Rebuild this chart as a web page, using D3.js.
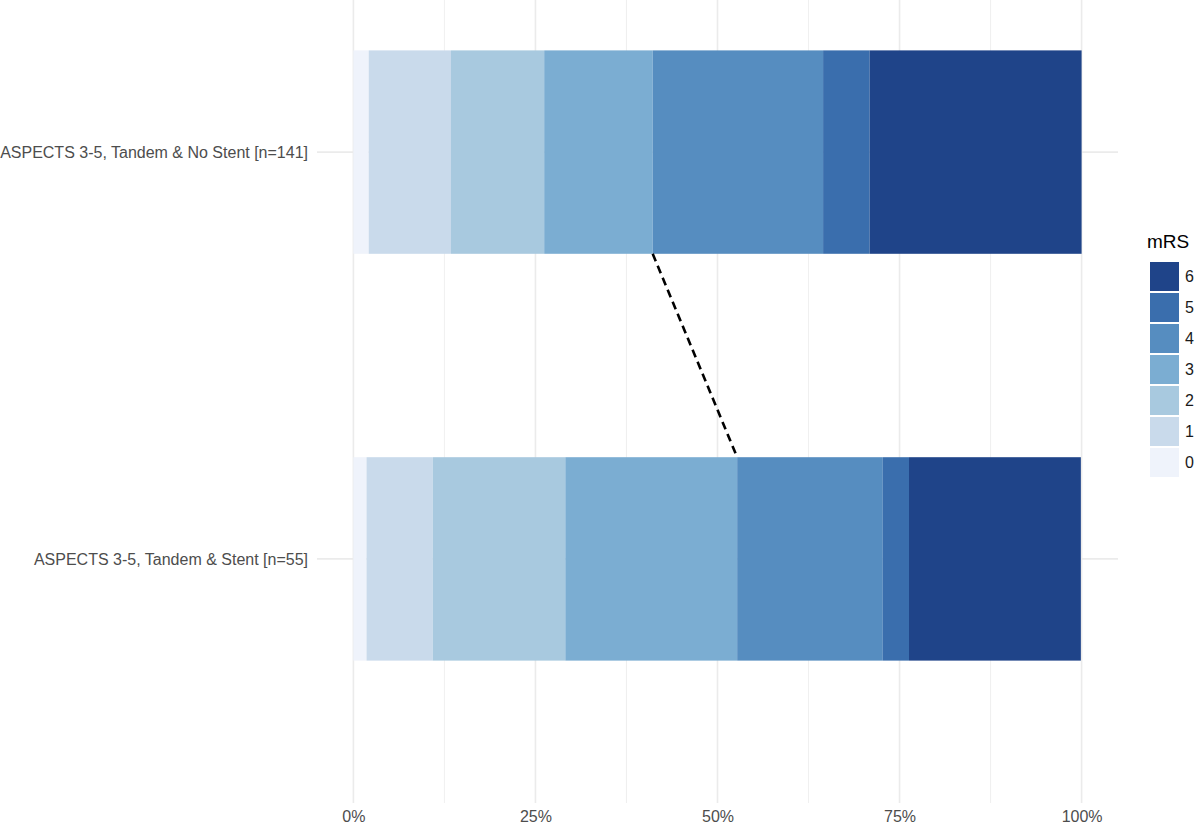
<!DOCTYPE html>
<html>
<head>
<meta charset="utf-8">
<script src="https://cdn.jsdelivr.net/npm/d3@7"></script>
<style>
  body { margin: 0; background: #fff; }
  svg { display: block; font-family: "Liberation Sans", Arial, sans-serif; }
</style>
</head>
<body>
<svg id="chart"></svg>
<script>
// groups, top to bottom
const groups = ['ASPECTS 3-5, Tandem & No Stent [n=141]', 'ASPECTS 3-5, Tandem & Stent [n=55]'];
const mrsLevels = ['0', '1', '2', '3', '4', '5', '6'];
// share of patients (%) per mRS level
const noStent = [2.1, 11.3, 12.8, 14.9, 23.4, 6.4, 29.1];
const stent = [1.8, 9.1, 18.2, 23.6, 20.0, 3.6, 23.6];
const mrsColors = ['#eff3fb', '#c9daeb', '#a8c9df', '#7badd2', '#568dc0', '#3a6ead', '#1f4489'];
const xTicks = [0, 25, 50, 75, 100];

const W = 1200, H = 826;
const svg = d3.select('#chart').attr('width', W).attr('height', H);

const panel = {left: 317, right: 1118, top: -92, bottom: 803};

const x = d3.scaleLinear().domain([-5, 105]).range([panel.left, panel.right]);
const y = d3.scalePoint().domain(groups).range([panel.top, panel.bottom]).padding(0.6);
const color = d3.scaleOrdinal().domain(mrsLevels).range(mrsColors);
const barH = y.step() * 0.5;

// grid
const grid = svg.append('g');
d3.range(0, 100, 12.5).filter(v => v % 25 !== 0).forEach(v => {
  grid.append('line').attr('x1', x(v)).attr('x2', x(v)).attr('y1', 0).attr('y2', panel.bottom)
    .attr('stroke', '#ebebeb').attr('stroke-width', 0.8);
});
xTicks.forEach(v => {
  grid.append('line').attr('x1', x(v)).attr('x2', x(v)).attr('y1', 0).attr('y2', panel.bottom)
    .attr('stroke', '#ebebeb').attr('stroke-width', 1.6);
});
groups.forEach(g => {
  grid.append('line').attr('x1', panel.left).attr('x2', panel.right).attr('y1', y(g)).attr('y2', y(g))
    .attr('stroke', '#ebebeb').attr('stroke-width', 1.6);
});

// stacked bars
const rows = groups.map((g, i) => {
  const vals = i === 0 ? noStent : stent;
  const row = {group: g};
  mrsLevels.forEach((m, j) => row[m] = vals[j]);
  return row;
});
const series = d3.stack().keys(mrsLevels)(rows);

svg.append('g')
  .selectAll('g')
  .data(series)
  .enter().append('g')
    .attr('fill', d => color(d.key))
  .selectAll('rect')
  .data(d => d)
  .enter().append('rect')
    .attr('x', d => x(d[0]))
    .attr('y', d => y(d.data.group) - barH / 2)
    .attr('width', d => x(d[1]) - x(d[0]))
    .attr('height', barH);

// dashed line joining the mRS 0-3 share of both bars
const s3 = series[3];
svg.append('line')
  .attr('x1', x(s3[0][1])).attr('y1', y(groups[0]) + barH / 2)
  .attr('x2', x(s3[1][1])).attr('y2', y(groups[1]) - barH / 2)
  .attr('stroke', '#000').attr('stroke-width', 2.6)
  .attr('stroke-dasharray', '8,5');

// axes
const xAxis = svg.append('g')
  .attr('transform', 'translate(0,' + 808 + ')')
  .call(d3.axisBottom(x).tickValues(xTicks).tickFormat(d => d + '%').tickSize(0));
xAxis.select('.domain').remove();
xAxis.selectAll('text').attr('fill', '#4d4d4d').attr('font-size', 16).attr('dy', '0.71em');

const yAxis = svg.append('g')
  .attr('transform', 'translate(' + (panel.left - 9) + ',0)')
  .call(d3.axisLeft(y).tickSize(0));
yAxis.select('.domain').remove();
yAxis.selectAll('text').attr('fill', '#4d4d4d').attr('font-size', 16).attr('x', 0);

// legend
const legend = svg.append('g').attr('transform', 'translate(1150,262)');
legend.append('text')
  .attr('x', -3).attr('y', -14)
  .attr('font-size', 19).attr('fill', '#000')
  .text('mRS');
const keys = legend.selectAll('g')
  .data(mrsLevels.slice().reverse())
  .enter().append('g')
    .attr('transform', (d, i) => 'translate(0,' + i * 31 + ')');
keys.append('rect')
  .attr('width', 29).attr('height', 29)
  .attr('fill', d => color(d));
keys.append('text')
  .attr('x', 35).attr('y', 14.5).attr('dy', '0.35em')
  .attr('font-size', 16).attr('fill', '#1a1a1a')
  .text(d => d);
</script>
</body>
</html>
